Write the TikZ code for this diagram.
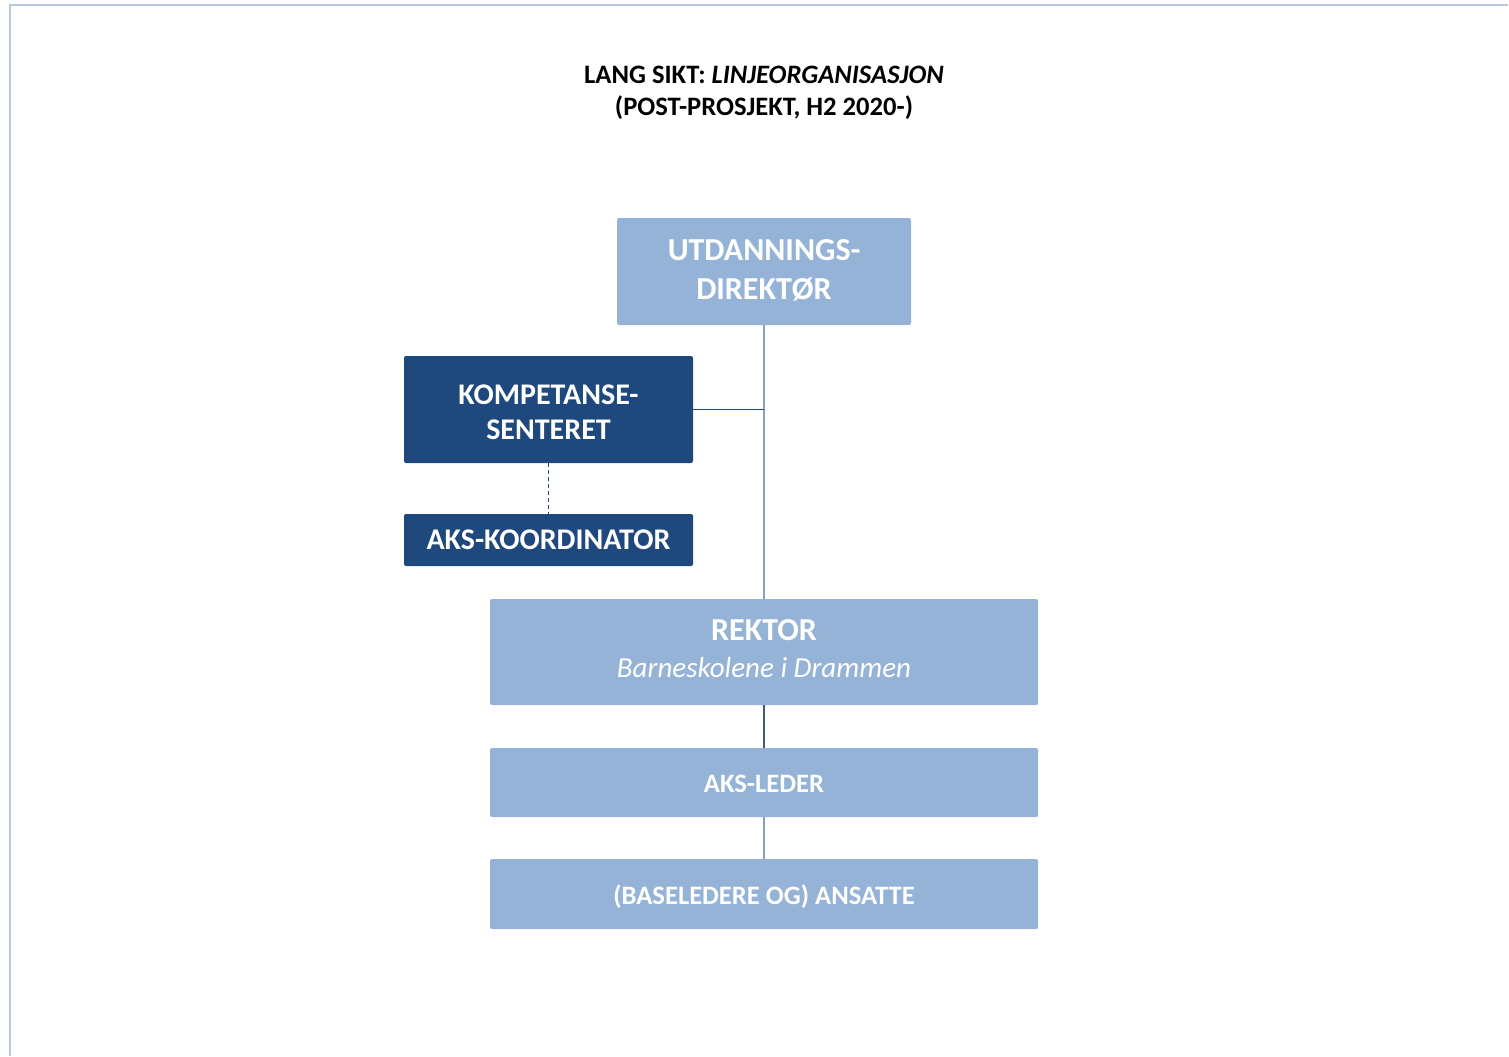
\documentclass[tikz,border=0pt]{standalone}
\usepackage{fontspec}
\setmainfont{Carlito}
\definecolor{lightbox}{HTML}{95B3D7}
\definecolor{darkbox}{HTML}{1F497D}
\definecolor{frameline}{HTML}{B9C8DE}
\definecolor{greyline}{HTML}{8A9FC0}
\definecolor{slateline}{HTML}{44597A}
\tikzset{
  orgbox/.style={rectangle, rounded corners=1pt, text=white, align=center, inner sep=0pt,
    font=\fontsize{15}{17.5}\selectfont\bfseries},
  lightunit/.style={orgbox, fill=lightbox},
  darkunit/.style={orgbox, fill=darkbox},
  smallunit/.style={lightunit, font=\fontsize{13.3}{16}\selectfont\bfseries},
}
\begin{document}
\begin{tikzpicture}[x=0.5pt, y=-0.5pt]
\useasboundingbox (0,0) rectangle (1509,1056);

% Page frame
\draw[frameline, line width=1pt] (10,1056) -- (10,5) -- (1508,5);

% Title
\node[font=\fontsize{13.3}{16}\selectfont\bfseries, align=center] (title) at (764,93)
  {LANG SIKT: \textit{LINJEORGANISASJON}\\(POST-PROSJEKT, H2 2020-)};

% Units
\node[lightunit, font=\fontsize{16}{19.5}\selectfont\bfseries,
      minimum width=147pt, minimum height=53.5pt] (dir) at (764,271.5)
  {UTDANNINGS-\\DIREKTØR\rule[-2pt]{0pt}{0pt}};
\node[darkunit, minimum width=144.5pt, minimum height=53.5pt] (komp) at (548.5,409.5)
  {\rule{0pt}{12.5pt}KOMPETANSE-\\SENTERET};
\node[darkunit, minimum width=144.5pt, minimum height=26pt] (koord) at (548.5,540)
  {AKS-KOORDINATOR};
\node[lightunit, font=\fontsize{16}{19}\selectfont\bfseries,
      minimum width=274pt, minimum height=53pt] (rektor) at (764,652)
  {REKTOR\\[-0.5pt]{\fontsize{14.5}{17}\selectfont\mdseries\itshape Barneskolene i Drammen}\rule[-3.5pt]{0pt}{0pt}};
\node[smallunit, minimum width=274pt, minimum height=34.5pt] (leder) at (764,782.5)
  {\rule{0pt}{10.5pt}AKS-LEDER};
\node[smallunit, minimum width=274pt, minimum height=35pt] (ansatte) at (764,894)
  {\rule{0pt}{12.5pt}(BASELEDERE OG) ANSATTE};

% Lines
\draw[greyline, line width=0.7pt] (dir.south) -- (rektor.north);
\coordinate (joint) at (dir.south |- komp.east);
\draw[darkbox, line width=0.5pt] (komp.east) -- (joint);
\draw[darkbox, line width=0.7pt, dash pattern=on 2pt off 1.5pt] (komp.south) -- (koord.north);
\draw[slateline, line width=0.9pt] (rektor.south) -- (leder.north);
\draw[greyline, line width=0.7pt] (leder.south) -- (ansatte.north);

\end{tikzpicture}
\end{document}
